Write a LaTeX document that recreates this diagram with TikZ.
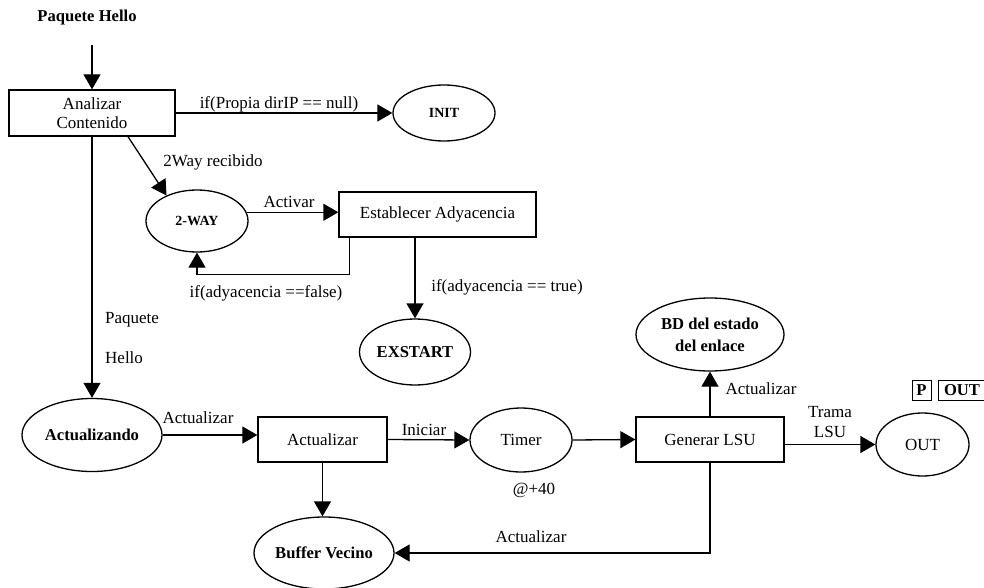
\documentclass[tikz,border=0pt]{standalone}
\usepackage{fontspec}
\setmainfont{Liberation Serif}
\usetikzlibrary{shapes.geometric,arrows.meta}

\newcommand{\txt}{\fontsize{17}{20}\selectfont}
\newcommand{\txtb}{\fontsize{16.6}{22}\selectfont\bfseries}
\newcommand{\txts}{\fontsize{14}{16}\selectfont\bfseries}

\tikzset{
  line/.style={line width=1.3pt},
  arr/.style={line, -{Triangle[length=15pt,width=17pt]}},
  box/.style={draw, rectangle, line width=1.3pt, inner sep=0pt, font=\txt, align=center},
  oval/.style={draw, ellipse, line width=1.3pt, inner sep=0pt, align=center},
  lbl/.style={font=\txt, inner sep=0pt, align=center},
  tag/.style={draw, rectangle, line width=1pt, inner sep=0pt, font=\txtb}
}

\begin{document}
\begin{tikzpicture}[x=1pt,y=-1pt]
\useasboundingbox (0,0) rectangle (984,588);

% entry
\node[lbl, font=\txtb] (src) at (87,18) {Paquete Hello};
\coordinate (srcend) at (92,45);

% states and processes
\node[box, minimum width=166pt, minimum height=46pt, font=\fontsize{17}{19}\selectfont] (anal) at (92,113) {Analizar\\Contenido};
\node[oval, minimum width=102pt, minimum height=56pt, font=\txts] (init) at (444,113) {INIT};
\node[oval, minimum width=102pt, minimum height=62pt, font=\txts] (twoway) at (197,221) {2-WAY};
\node[box, minimum width=197pt, minimum height=45pt] (est) at (437.5,214.5) {Establecer Adyacencia};
\node[oval, minimum width=111pt, minimum height=66pt, font=\txtb] (exs) at (415,352) {EXSTART};
\node[oval, minimum width=140pt, minimum height=73pt, font=\txtb] (actz) at (92,435) {Actualizando};
\node[box, minimum width=129pt, minimum height=45pt] (upd) at (322.5,439.5) {Actualizar};
\node[oval, minimum width=102pt, minimum height=64pt, font=\txt] (timer) at (521,440) {Timer};
\node[box, minimum width=148pt, minimum height=45pt] (gen) at (710,439.5) {Generar LSU};
\node[oval, minimum width=148pt, minimum height=73pt, font=\txtb] (bd) at (710,334.5) {BD del estado\\del enlace};
\node[oval, minimum width=93pt, minimum height=63pt, font=\txt] (out) at (922.5,444.5) {OUT};
\node[oval, minimum width=140pt, minimum height=72pt, font=\txtb] (buf) at (324,553) {Buffer Vecino};

% port tags
\node[tag, minimum width=19pt, minimum height=20pt] (tagp) at (921.5,390) {P};
\node[tag, minimum width=48pt, minimum height=20pt] (tagout) at (962,390) {OUT};

% connectors
\draw[arr] (srcend) -- (anal.north);
\draw[arr] (anal.east) -- (init.west);
\draw[arr] ([xshift=36pt]anal.south) -- (twoway.140);
\draw[arr] (twoway.10) -- (twoway.10 -| est.west);
\draw[arr] ([xshift=11pt]est.south west) -- ++(0,37) -| (twoway.south);
\draw[arr] (exs.north |- est.south) -- (exs.north);
\draw[arr] (anal.south) -- (actz.north);
\draw[arr] (actz.east) -- (actz.east -| upd.west);
\draw[arr] (upd.east) -- (timer.west);
\draw[arr] (timer.east) -- (gen.west);
\draw[arr] (gen.north) -- (bd.south);
\draw[arr] (out.west -| gen.east) -- (out.west);
\draw[arr] (gen.south) |- (buf.east);
\draw[arr] (upd.south) -- (upd.south |- buf.north);

% connector labels
\node[lbl] (l1) at (279,104) {if(Propia dirIP == null)};
\node[lbl] (l2) at (213,162) {2Way recibido};
\node[lbl] (l3) at (289,202) {Activar};
\node[lbl] (l4) at (266,293) {if(adyacencia ==false)};
\node[lbl] (l5) at (507,287) {if(adyacencia == true)};
\node[lbl, anchor=base west] (l6) at (105,323) {Paquete};
\node[lbl, anchor=base west] (l7) at (105,363) {Hello};
\node[lbl] (l8) at (198,418) {Actualizar};
\node[lbl] (l9) at (424,430) {Iniciar};
\node[lbl] (l10) at (534,490) {@+40};
\node[lbl] (l11) at (761,389) {Actualizar};
\node[lbl] (l12) at (830,412) {Trama};
\node[lbl] (l13) at (830,432) {LSU};
\node[lbl] (l14) at (531,537) {Actualizar};
\end{tikzpicture}
\end{document}
